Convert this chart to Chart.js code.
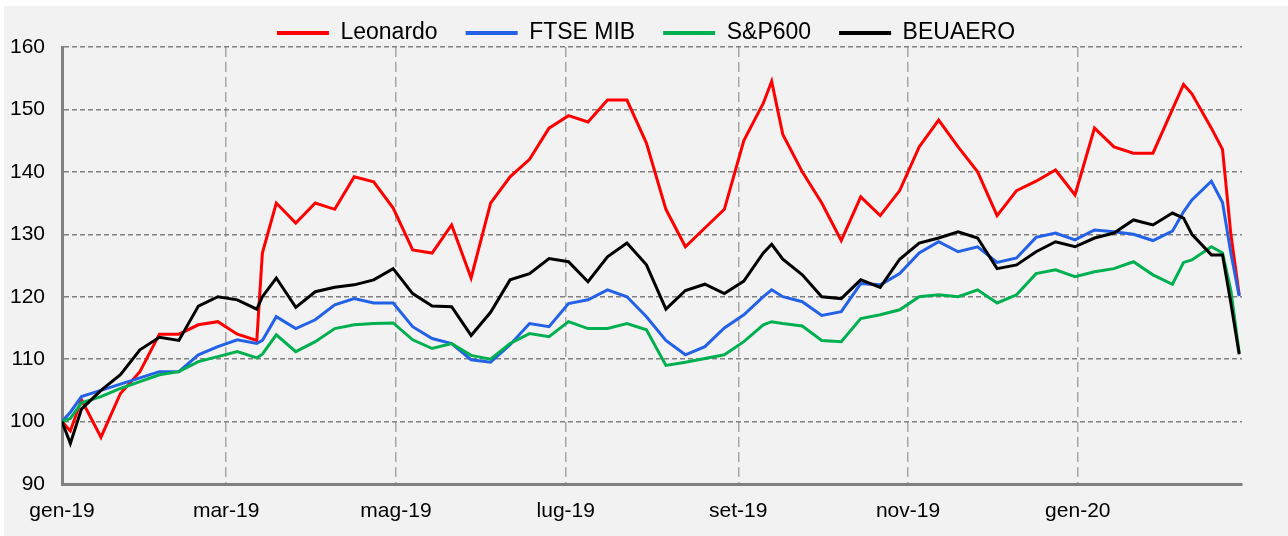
<!DOCTYPE html>
<html>
<head>
<meta charset="utf-8">
<script src="https://cdn.jsdelivr.net/npm/chart.js@4/dist/chart.umd.min.js"></script>
<style>
    html, body { margin: 0; padding: 0; background: #ffffff; }
    #box { position: absolute; left: 4px; top: 6px; width: 1284px; height: 530px; background: #f2f2f2; }
</style>
</head>
<body>
<div id="box"><canvas id="grafico" width="1284" height="530"></canvas></div>
<script>
// days from 1 Jan 2019
const days = [0, 3, 7, 14, 21, 28, 35, 42, 49, 56, 63, 70, 72, 77, 84, 91, 98, 105, 112, 119,
    126, 133, 140, 147, 154, 161, 168, 175, 182, 189, 196, 203, 210, 217, 224, 231, 238, 245,
    252, 255, 259, 266, 273, 280, 287, 294, 301, 308, 315, 322, 329, 336, 343, 350, 357, 364,
    371, 378, 385, 392, 399, 403, 406, 413, 417, 420, 423]

const leonardo = [100, 98.5, 103.5, 97.5, 104.5, 108, 114, 114, 115.5, 116, 114, 113, 127, 135,
    131.8, 135, 134, 139.2, 138.4, 134.2, 127.5, 127, 131.5, 123, 135, 139.2, 142, 147, 149, 148,
    151.5, 151.5, 144.6, 134, 128, 131, 134, 145, 151, 154.5, 146, 140, 135, 129, 136, 133, 137,
    144, 148.3, 144, 140, 133, 137, 138.5, 140.3, 136.3, 147, 144, 143, 143, 150, 154, 152.5,
    147, 143.6, 130, 120.3]

const ftseMib = [100, 101.5, 104, 105, 106, 107, 108, 108, 110.7, 112, 113.1, 112.5, 113, 116.8,
    114.9, 116.3, 118.7, 119.7, 119, 119, 115.2, 113.3, 112.5, 109.9, 109.5, 112.3, 115.7, 115.2,
    118.9, 119.5, 121.1, 120, 116.8, 113, 110.7, 112, 115, 117.1, 120, 121.1, 120, 119.2, 117,
    117.6, 122.1, 121.9, 123.7, 127, 128.8, 127.2, 128, 125.5, 126.2, 129.5, 130.2, 129.1, 130.7,
    130.4, 130, 129, 130.5, 133.6, 135.5, 138.5, 135.1, 127, 120.1]

const sp600 = [100, 100.5, 103, 104, 105.3, 106.4, 107.5, 108, 109.6, 110.4, 111.2, 110.2, 110.8,
    113.9, 111.2, 112.8, 114.9, 115.5, 115.7, 115.8, 113.1, 111.7, 112.5, 110.6, 110, 112.5, 114.1,
    113.6, 116, 114.9, 114.9, 115.7, 114.7, 109, 109.5, 110.1, 110.7, 112.8, 115.5, 116, 115.7,
    115.3, 113, 112.8, 116.5, 117.1, 117.9, 120, 120.3, 120, 121.1, 119, 120.3, 123.7, 124.3,
    123.2, 124, 124.5, 125.6, 123.5, 122, 125.5, 125.9, 128, 127, 121, 111]

const beuaero = [100, 96.5, 102, 105, 107.5, 111.5, 113.5, 113, 118.5, 120, 119.5, 118, 120, 123,
    118.3, 120.8, 121.5, 121.9, 122.7, 124.5, 120.5, 118.5, 118.4, 113.8, 117.5, 122.7, 123.7,
    126.1, 125.6, 122.4, 126.4, 128.6, 125.1, 118, 121, 122, 120.5, 122.5, 127, 128.4, 126, 123.5,
    120, 119.7, 122.7, 121.5, 126, 128.6, 129.4, 130.4, 129.4, 124.5, 125.1, 127.2, 128.8, 128,
    129.4, 130.2, 132.3, 131.5, 133.4, 132.6, 130, 126.7, 126.7, 119, 110.8]

const tickDays = [0, 59, 120, 181, 243, 304, 365]
const tickLabels = ['gen-19', 'mar-19', 'mag-19', 'lug-19', 'set-19', 'nov-19', 'gen-20']

const seriesNames = ['Leonardo', 'FTSE MIB', 'S&P600', 'BEUAERO']
const seriesColors = ['#ff0000', '#2361e6', '#00b050', '#000000']
const seriesValues = [leonardo, ftseMib, sp600, beuaero]

const fontFamily = "'Liberation Sans', Arial, sans-serif"

const datasets = seriesNames.map((name, i) => ({
    label: name,
    data: days.map((d, k) => ({ x: d, y: seriesValues[i][k] })),
    borderColor: seriesColors[i],
    backgroundColor: seriesColors[i],
    borderWidth: 3,
    pointRadius: 0,
    tension: 0,
    order: seriesNames.length - i
}))

new Chart(document.getElementById('grafico'), {
    type: 'line',
    data: { datasets },
    options: {
        responsive: false,
        animation: false,
        layout: { padding: { top: -12.5, right: 0, bottom: 0, left: 0 } },
        scales: {
            x: {
                type: 'linear',
                min: 0,
                max: 424,
                afterBuildTicks: axis => { axis.ticks = tickDays.map(v => ({ value: v })) },
                afterFit: axis => { axis.height = 52 },
                ticks: {
                    autoSkip: false,
                    maxRotation: 0,
                    padding: 15,
                    color: '#000000',
                    font: { family: fontFamily, size: 21 },
                    callback: value => tickLabels[tickDays.indexOf(value)]
                },
                grid: {
                    drawTicks: false,
                    lineWidth: 1.5,
                    color: ctx => (ctx.tick && ctx.tick.value === 0) ? 'rgba(0,0,0,0)' : '#a6a6a6'
                },
                border: { display: true, color: '#808080', width: 3, dash: [10, 5] }
            },
            y: {
                min: 90,
                max: 160,
                afterFit: axis => { axis.width = 58 },
                ticks: {
                    stepSize: 10,
                    padding: 17,
                    color: '#000000',
                    font: { family: fontFamily, size: 21 }
                },
                grid: {
                    drawTicks: false,
                    lineWidth: 1.5,
                    color: '#808080'
                },
                border: { display: true, color: '#808080', width: 3, dash: [5, 3] }
            },
            // empty strip on the right of the plot
            spazio: {
                position: 'right',
                afterFit: axis => { axis.width = 46 },
                ticks: { display: false },
                grid: { display: false },
                border: { display: false }
            }
        },
        plugins: {
            tooltip: { enabled: false },
            legend: {
                position: 'top',
                maxHeight: 53.5,
                labels: {
                    boxWidth: 52,
                    boxHeight: 4,
                    padding: 28,
                    color: '#000000',
                    font: { family: fontFamily, size: 23 },
                    sort: (a, b) => a.datasetIndex - b.datasetIndex,
                    generateLabels: chart => Chart.defaults.plugins.legend.labels.generateLabels(chart).map(item => ({
                        ...item,
                        fillStyle: item.strokeStyle,
                        lineWidth: 0
                    }))
                }
            }
        }
    }
})
</script>
</body>
</html>
